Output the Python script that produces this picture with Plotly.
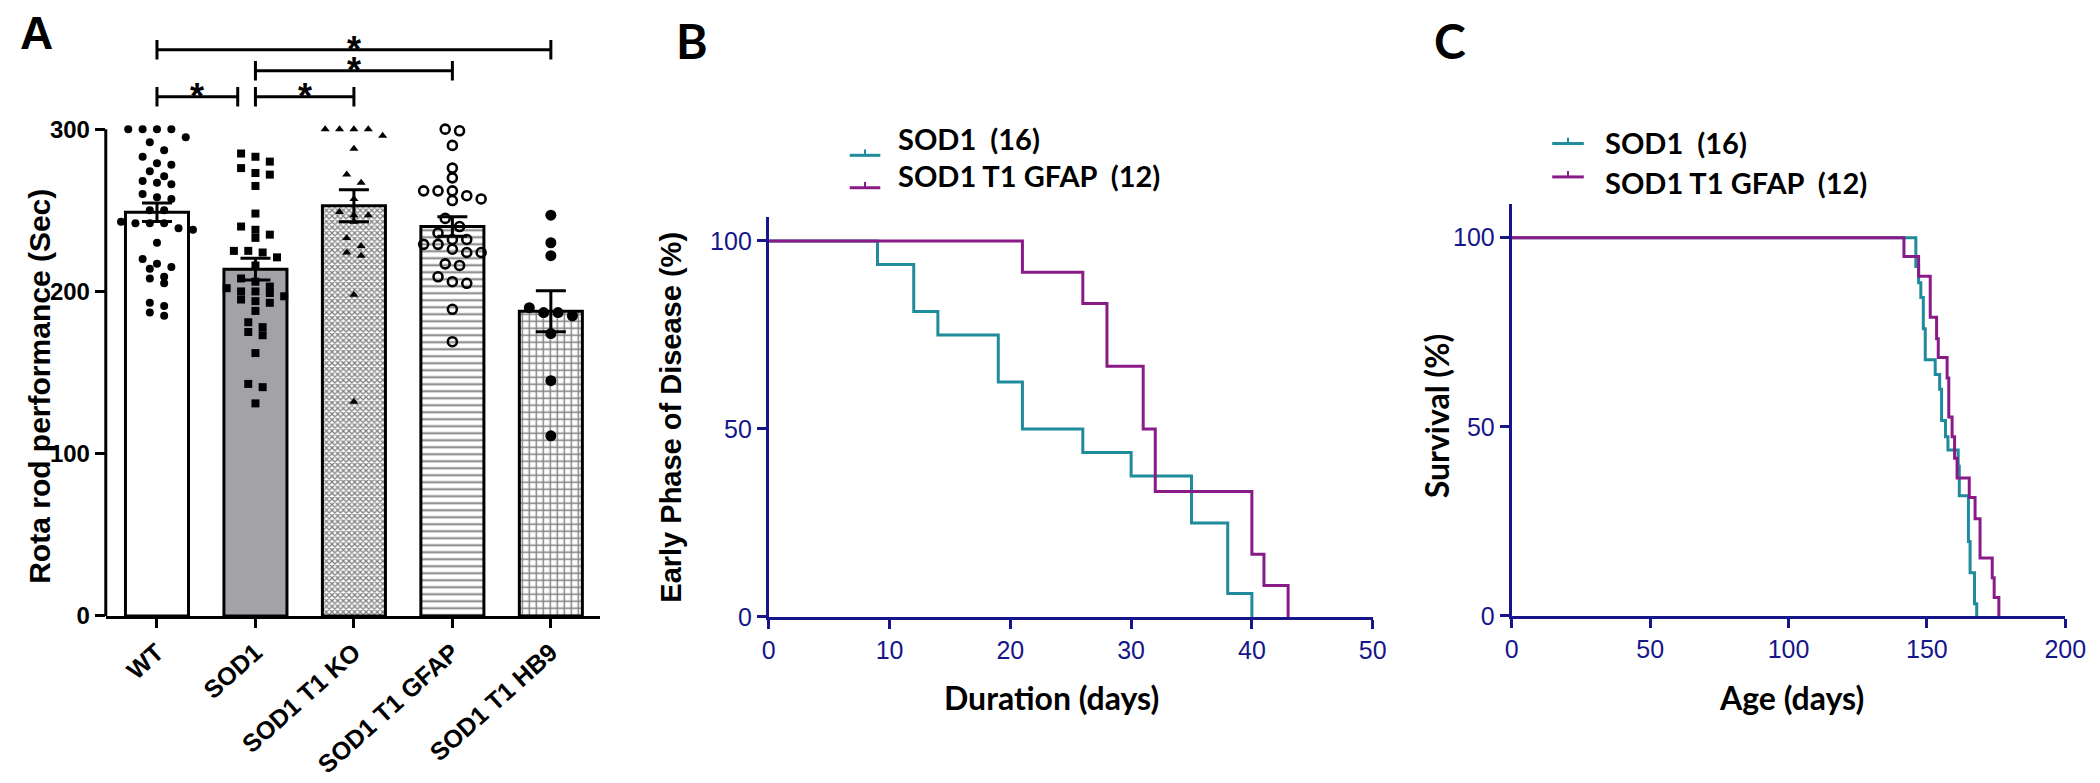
import plotly.graph_objects as go

# ---------------- data ----------------
categories = ["WT", "SOD1", "SOD1 T1 KO", "SOD1 T1 GFAP", "SOD1 T1 HB9"]
wt_vals = [300, 300, 300, 300, 295, 292, 287, 283, 278, 279, 274, 271, 266, 267, 268, 260, 257, 258,
           250, 250, 242, 243, 242, 242, 238, 239, 230, 220, 217, 215, 214, 209, 208, 205, 191, 193, 185, 187]
sod1_vals = [285, 283, 280, 273, 276, 272, 265, 248, 240, 235, 238, 233, 221, 224, 225, 225, 216, 208,
             203, 197, 200, 202, 206, 199, 200, 195, 193, 194, 188, 181, 178, 175, 173, 162, 143, 141, 131]
ko_vals = [300, 300, 300, 300, 296, 288, 272, 267, 257, 249, 247, 247, 243, 233, 228, 224, 222, 198, 132]
gfap_vals = [300, 299, 290, 276, 270, 262, 262, 262, 256, 257, 259, 245, 240, 236, 232, 232, 229, 229,
             224, 224, 226, 216, 217, 209, 205, 206, 189, 169]
hb9_vals = [247, 230, 222, 187, 190, 187, 185, 174, 145, 111]
group_vals = [wt_vals, sod1_vals, ko_vals, gfap_vals, hb9_vals]
y_ticks_a = [0, 100, 200, 300]

sig_pairs = [(0, 4), (1, 3), (0, 1), (1, 2)]
sig_levels = [349, 336, 320, 320]
sig_text = ["*", "*", "*", "*"]

b_sod1_days = [0, 9, 12, 14, 19, 21, 26, 30, 35, 38, 40]
b_sod1_pct = [100, 93.75, 81.25, 75, 62.5, 50, 43.75, 37.5, 25, 6.25, 0]
b_gfap_days = [0, 21, 26, 28, 31, 32, 40, 41, 43]
b_gfap_pct = [100, 91.67, 83.33, 66.67, 50, 33.33, 16.67, 8.33, 0]
b_xticks = [0, 10, 20, 30, 40, 50]
b_yticks = [0, 50, 100]

c_sod1_days = [0, 146.0, 147.0, 147.8, 148.7, 149.4, 153.0, 154.6, 155.3, 156.7, 157.6, 161.3, 161.7,
               165.0, 165.6, 167.2, 168.0]
c_sod1_pct = [100, 92.4, 88.1, 84.2, 75.9, 67.7, 63.8, 59.9, 51.7, 47.4, 43.9, 39.6, 31.8, 19.7, 11.4, 3.2, 0]
c_gfap_days = [0, 141.7, 147.0, 151.2, 153.5, 154.1, 157.3, 157.9, 159.1, 160.0, 160.9, 165.3, 167.4,
               169.2, 173.6, 174.3, 176.0]
c_gfap_pct = [100, 95.0, 89.8, 79.0, 73.3, 68.3, 62.9, 52.6, 47.4, 41.7, 36.5, 31.3, 25.7, 15.3, 10.1, 4.9, 0]
c_xticks = [0, 50, 100, 150, 200]
c_yticks = [0, 50, 100]

legend_names = ["SOD1\u00a0\u00a0(16)", "SOD1 T1 GFAP\u00a0\u00a0(12)"]

# ---------------- helpers ----------------
W, H = 2100, 783
def px(x):
    return x / W
def py(y):
    return 1 - y / H

def swarm_offsets(vals, row_tol=5.0, step=0.146):
    order = sorted(range(len(vals)), key=lambda i: -vals[i])
    offs = [0.0] * len(vals)
    rows, cur = [], []
    for i in order:
        if cur and vals[cur[0]] - vals[i] > row_tol:
            rows.append(cur)
            cur = []
        cur.append(i)
    if cur:
        rows.append(cur)
    for row in rows:
        n = len(row)
        for k, i in enumerate(row):
            offs[i] = (k - (n - 1) / 2) * step
    return offs

def mean_sem(v):
    n = len(v)
    m = sum(v) / n
    sd = (sum((a - m) ** 2 for a in v) / (n - 1)) ** 0.5
    return m, sd / n ** 0.5

ARIAL = "Liberation Sans, Arial, sans-serif"
CALI = "Lato, Open Sans, sans-serif"
NARROW = "Liberation Sans Narrow, Liberation Sans, Arial, sans-serif"
NAVY = "#16168a"
TEAL = "#1f8b9b"
PURPLE = "#8a1a88"

fig = go.Figure()

# ---------------- Panel A ----------------
bar_fill = ["white", "#a2a2a7", "white", "white", "white"]
bar_pattern = [dict(shape=""),
               dict(shape=""),
               dict(shape="x", size=4, solidity=0.55, fgcolor="black", bgcolor="white"),
               dict(shape="-", size=7, solidity=0.28, fgcolor="black", bgcolor="white"),
               dict(shape="+", size=7, solidity=0.36, fgcolor="black", bgcolor="white")]
means, sems = zip(*[mean_sem(v) for v in group_vals])
for i in range(len(categories)):
    fig.add_trace(go.Bar(x=[i], y=[means[i]], width=0.64,
                         marker=dict(color=bar_fill[i], pattern=bar_pattern[i],
                                     line=dict(color="black", width=3)),
                         xaxis="x", yaxis="y", showlegend=False))

sym = ["circle", "square", "triangle-up", "circle-open", "circle"]
msize = [8, 8, 8, 9, 11]
for i, vals in enumerate(group_vals):
    offs = swarm_offsets(vals)
    mk = dict(symbol=sym[i], size=msize[i], color="black")
    if sym[i] == "circle-open":
        mk["line"] = dict(width=2.6, color="black")
    fig.add_trace(go.Scatter(x=[i + o for o in offs], y=vals, mode="markers", marker=mk,
                             xaxis="x", yaxis="y", showlegend=False, cliponaxis=False))

fig.add_trace(go.Scatter(x=list(range(len(categories))), y=list(means), mode="markers",
                         marker=dict(size=1, opacity=0),
                         error_y=dict(type="data", array=list(sems), color="black", thickness=3, width=15),
                         xaxis="x", yaxis="y", showlegend=False))

shapes = []
A_dom_x = [px(92), px(593)]
A_dom_y = [py(619), py(16)]
# y-axis line of panel A (only up to 300)
shapes.append(dict(type="line", xref="paper", yref="y", x0=A_dom_x[0], x1=A_dom_x[0], y0=0, y1=300,
                   line=dict(color="black", width=3)))
annotations = []
for (a, b), lev, t in zip(sig_pairs, sig_levels, sig_text):
    x1 = b
    for (a2, b2), lev2 in zip(sig_pairs, sig_levels):
        if lev2 == lev and a2 == b and (a2, b2) != (a, b):
            x1 = b - 0.18
    shapes.append(dict(type="line", xref="x", yref="y", x0=a, x1=x1, y0=lev, y1=lev,
                       line=dict(color="black", width=3)))
    for xx in (a, x1):
        shapes.append(dict(type="line", xref="x", yref="y", x0=xx, x1=xx, y0=lev - 6, y1=lev + 6,
                           line=dict(color="black", width=3)))
    annotations.append(dict(x=(a + x1) / 2, y=lev, xref="x", yref="y", text=t, showarrow=False,
                            xanchor="center", yanchor="bottom", yshift=-22,
                            font=dict(family=ARIAL, size=36, color="black", weight="bold")))

# ---------------- Panel B ----------------
fig.add_trace(go.Scatter(x=b_sod1_days, y=b_sod1_pct, mode="lines", line=dict(color=TEAL, width=3, shape="hv"),
                         xaxis="x2", yaxis="y2", showlegend=False, cliponaxis=False))
fig.add_trace(go.Scatter(x=b_gfap_days, y=b_gfap_pct, mode="lines", line=dict(color=PURPLE, width=3, shape="hv"),
                         xaxis="x2", yaxis="y2", showlegend=False, cliponaxis=False))

# ---------------- Panel C ----------------
fig.add_trace(go.Scatter(x=c_sod1_days, y=c_sod1_pct, mode="lines", line=dict(color=TEAL, width=3, shape="hv"),
                         xaxis="x3", yaxis="y3", showlegend=False, cliponaxis=False))
fig.add_trace(go.Scatter(x=c_gfap_days, y=c_gfap_pct, mode="lines", line=dict(color=PURPLE, width=3, shape="hv"),
                         xaxis="x3", yaxis="y3", showlegend=False, cliponaxis=False))

# legends (B and C)
def legend_block(sym_x0, sym_x1, sym_y, text_x, text_y):
    cols = [TEAL, PURPLE]
    for k in range(2):
        shapes.append(dict(type="line", xref="paper", yref="paper", x0=px(sym_x0), x1=px(sym_x1),
                           y0=py(sym_y[k]), y1=py(sym_y[k]), line=dict(color=cols[k], width=3)))
        xm = (sym_x0 + sym_x1) / 2
        shapes.append(dict(type="line", xref="paper", yref="paper", x0=px(xm), x1=px(xm),
                           y0=py(sym_y[k]), y1=py(sym_y[k] - 6), line=dict(color=cols[k], width=2)))
        annotations.append(dict(x=px(text_x), y=py(text_y[k]), xref="paper", yref="paper",
                                text=legend_names[k], showarrow=False, xanchor="left", yanchor="middle",
                                font=dict(family=CALI, size=29, color="black", weight="bold")))

legend_block(846, 877, [150, 183], 893, [133, 171])
legend_block(1558, 1590, [138, 172], 1609, [137, 178])

# panel letters and titles
annotations += [
    dict(x=px(22), y=py(25), text="A", font=dict(family=ARIAL, size=46, weight="bold", color="black")),
    dict(x=px(686), y=py(33), text="B", font=dict(family=CALI, size=48, weight="bold", color="black")),
    dict(x=px(1454), y=py(33), text="C", font=dict(family=CALI, size=48, weight="bold", color="black")),
    dict(x=px(24), y=py(385), text="Rota rod performance (Sec)", textangle=-90,
         font=dict(family=ARIAL, size=30, weight="bold", color="black")),
    dict(x=px(664), y=py(417), text="Early Phase of Disease (%)", textangle=-90,
         font=dict(family=ARIAL, size=29, weight="bold", color="black")),
    dict(x=px(1050), y=py(702), text="Duration (days)",
         font=dict(family=CALI, size=32, weight="bold", color="black")),
    dict(x=px(1441), y=py(415), text="Survival (%)", textangle=-90,
         font=dict(family=CALI, size=32, weight="bold", color="black")),
    dict(x=px(1800), y=py(702), text="Age (days)",
         font=dict(family=CALI, size=32, weight="bold", color="black")),
]
for a in annotations:
    if "showarrow" not in a:
        a.update(showarrow=False, xref="paper", yref="paper", xanchor="center", yanchor="middle")

tick_nav = dict(family=NARROW, size=25, color=NAVY)
axis_nav = dict(showline=True, linecolor=NAVY, linewidth=3, ticks="outside", ticklen=9, tickwidth=3,
                tickcolor=NAVY, tickfont=tick_nav, showgrid=False, zeroline=False)

fig.update_layout(
    width=W, height=H, margin=dict(l=0, r=0, t=0, b=0),
    paper_bgcolor="white", plot_bgcolor="white", barmode="overlay",
    xaxis=dict(domain=A_dom_x, range=[-0.52, 4.5], tickvals=list(range(len(categories))), ticktext=categories,
               tickangle=-42, showline=True, linecolor="black", linewidth=3, ticks="outside", ticklen=9,
               tickwidth=3, tickcolor="black", showgrid=False, zeroline=False,
               tickfont=dict(family=ARIAL, size=25, color="black", weight="bold")),
    yaxis=dict(domain=A_dom_y, range=[0, 365], tickvals=y_ticks_a, showline=False, ticks="outside",
               ticklen=10, tickwidth=3, tickcolor="black", showgrid=False, zeroline=False,
               tickfont=dict(family=ARIAL, size=24, color="black", weight="bold")),
    xaxis2=dict(domain=[px(764), px(1376)], range=[0, 50], tickvals=b_xticks, anchor="y2", **axis_nav),
    yaxis2=dict(domain=[py(620), py(213)], range=[0, 106.3], tickvals=b_yticks, anchor="x2", **axis_nav),
    xaxis3=dict(domain=[px(1517), px(2078)], range=[0, 200], tickvals=c_xticks, anchor="y3", **axis_nav),
    yaxis3=dict(domain=[py(619), py(200)], range=[0, 108.8], tickvals=c_yticks, anchor="x3", **axis_nav),
    shapes=shapes, annotations=annotations,
)

fig.write_html("out.html")
